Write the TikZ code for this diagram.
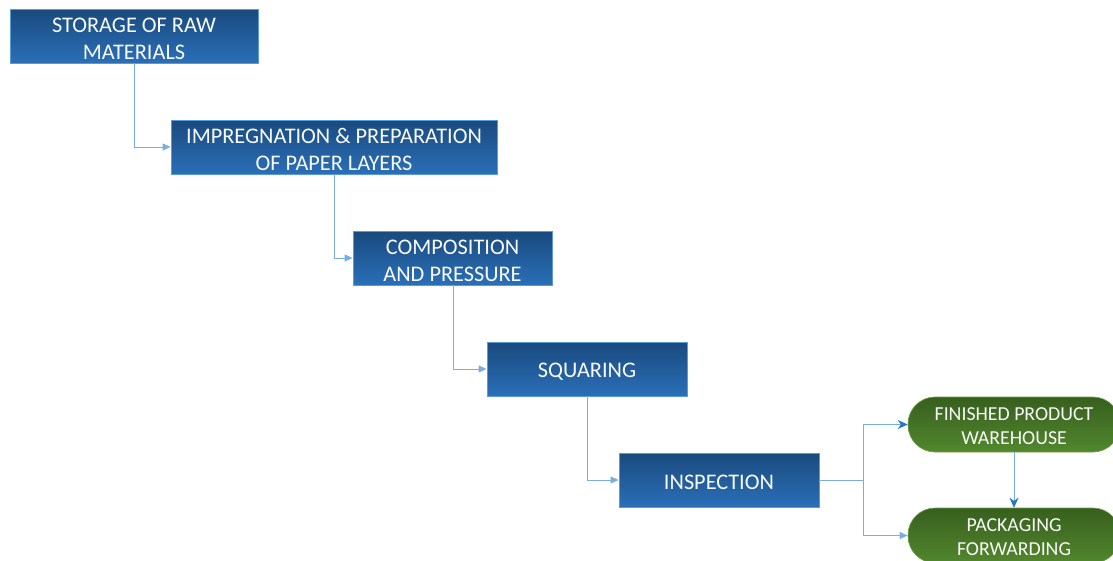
\documentclass[tikz,border=0pt]{standalone}
\usepackage{fontspec}
\setmainfont{Carlito}
\usetikzlibrary{arrows.meta}
\definecolor{btop}{HTML}{1A4A7E}
\definecolor{bbot}{HTML}{2A6FB8}
\definecolor{bedge}{HTML}{5A9AD6}
\definecolor{gtop}{HTML}{375F1D}
\definecolor{gbot}{HTML}{52872E}
\definecolor{gedge}{HTML}{6FA04A}
\definecolor{lineblue}{HTML}{7AAEDD}
\definecolor{darkarrow}{HTML}{2078C8}
\tikzset{
  bluebox/.style={rectangle, draw=bedge, line width=0.8pt, top color=btop, bottom color=bbot,
    minimum height=54pt, inner sep=0pt},
  bluetext/.style={text=white!95!gray, font=\fontsize{22.3}{27}\selectfont, align=center,
    inner sep=0pt, shift={(0pt,-2.5pt)}},
  greenbox/.style={rectangle, rounded corners=27pt, draw=gedge, line width=0.6pt, top color=gtop, bottom color=gbot,
    minimum height=55pt, minimum width=212pt, inner sep=0pt},
  greentext/.style={text=white!95!gray, font=\fontsize{19.8}{24}\selectfont, align=center,
    inner sep=0pt, shift={(0pt,-2pt)}},
  conn/.style={draw=lineblue, line width=1pt, -{Triangle[length=8pt,width=7pt]}},
  connd/.style={draw=lineblue, line width=1pt, -{Stealth[length=10pt,width=9pt,color=darkarrow]}},
  plainline/.style={draw=lineblue, line width=1pt}
}
\begin{document}
\begin{tikzpicture}[x=1pt,y=-1pt]
\useasboundingbox (0,0) rectangle (1113,560);
\begin{scope}
\clip (0,0) rectangle (1113,560);
\node[bluebox, minimum width=248pt, label={[bluetext]center:STORAGE OF RAW\\MATERIALS}] (b1) at (134,36) {};
\node[bluebox, minimum width=326pt, label={[bluetext]center:IMPREGNATION \& PREPARATION\\OF PAPER LAYERS}] (b2) at (334,147) {};
\node[bluebox, minimum width=199pt, label={[bluetext]center:COMPOSITION\\AND PRESSURE}] (b3) at (452.5,258) {};
\node[bluebox, minimum width=200pt, label={[bluetext]center:SQUARING}] (b4) at (587,369) {};
\node[bluebox, minimum width=200pt, label={[bluetext]center:INSPECTION}] (b5) at (719,480) {};
\node[greenbox, label={[greentext]center:FINISHED PRODUCT\\WAREHOUSE}] (g1) at (1014,424.5) {};
\node[greenbox, label={[greentext]center:PACKAGING\\FORWARDING}] (g2) at (1014,535.5) {};
\end{scope}
\draw[conn] (b1.south) |- (b2.west);
\draw[conn] (b2.south) |- (b3.west);
\draw[conn] ([xshift=0.5pt]b3.south) |- (b4.west);
\draw[conn] (b4.south) |- (b5.west);
\coordinate (split) at (863,480);
\draw[plainline] (b5.east) -- (split);
\draw[connd] (split) |- (g1.west);
\draw[conn] (split) |- (g2.west);
\draw[connd] (g1.south) -- (g2.north);
\end{tikzpicture}
\end{document}
